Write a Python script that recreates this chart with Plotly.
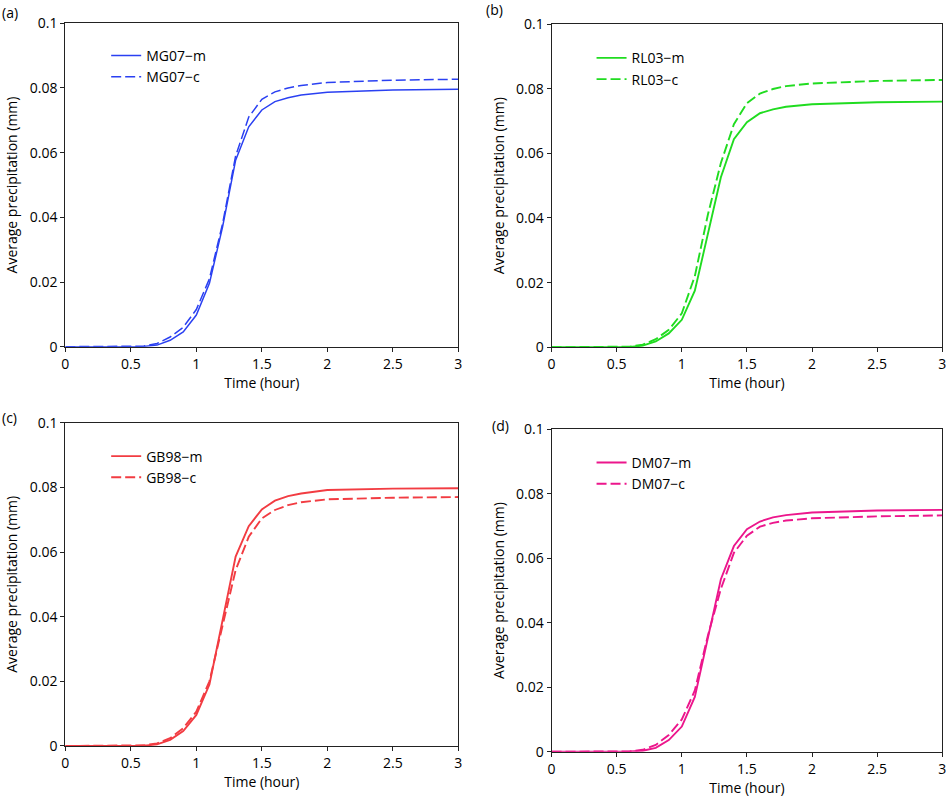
import plotly.graph_objects as go

# Time axis (hour)
time = [0.0, 0.5, 0.6, 0.7, 0.8, 0.9, 1.0, 1.1, 1.2, 1.3, 1.4, 1.5, 1.6, 1.7, 1.8, 2.0, 2.5, 3.0]

# Panel (a)
mg07_m = [0, 0, 0.0001, 0.0005, 0.0020, 0.0046, 0.0098, 0.0196, 0.0370, 0.0577, 0.0680, 0.0732, 0.0758, 0.0770, 0.0778, 0.0787, 0.0794, 0.0796]
mg07_c = [0, 0, 0.0002, 0.0010, 0.0030, 0.0060, 0.0115, 0.0210, 0.0380, 0.0590, 0.0710, 0.0765, 0.0788, 0.0800, 0.0808, 0.0817, 0.0824, 0.0827]
# Panel (b)
rl03_m = [0, 0, 0.0001, 0.0005, 0.0018, 0.0043, 0.0085, 0.0175, 0.0350, 0.0526, 0.0644, 0.0696, 0.0724, 0.0736, 0.0744, 0.0752, 0.0758, 0.0760]
rl03_c = [0, 0, 0.0002, 0.0008, 0.0025, 0.0054, 0.0105, 0.0220, 0.0410, 0.0570, 0.0690, 0.0755, 0.0785, 0.0799, 0.0808, 0.0816, 0.0824, 0.0827]
# Panel (c)
gb98_m = [0, 0, 0.0001, 0.0005, 0.0019, 0.0046, 0.0096, 0.0190, 0.0390, 0.0586, 0.0680, 0.0732, 0.0759, 0.0773, 0.0781, 0.0792, 0.0796, 0.0797]
gb98_c = [0, 0, 0.0002, 0.0008, 0.0024, 0.0055, 0.0106, 0.0200, 0.0369, 0.0544, 0.0647, 0.0704, 0.0730, 0.0745, 0.0754, 0.0763, 0.0768, 0.0770]
# Panel (d)
dm07_m = [0, 0, 0.0001, 0.0003, 0.0012, 0.0036, 0.0078, 0.0170, 0.0350, 0.0535, 0.0638, 0.0690, 0.0714, 0.0727, 0.0734, 0.0742, 0.0748, 0.0750]
dm07_c = [0, 0, 0.0001, 0.0006, 0.0021, 0.0052, 0.0100, 0.0190, 0.0360, 0.0505, 0.0617, 0.0670, 0.0698, 0.0710, 0.0717, 0.0724, 0.0730, 0.0733]

panels = [
    dict(label="(a)", names=["MG07\u2212m", "MG07\u2212c"], data=[mg07_m, mg07_c], color="#2a40f2", lw=1.5,
         xd=[0.0689, 0.4835], yd=[0.5655, 0.9708], leg=(0.112, 0.950), lab=(0.0, 0.984)),
    dict(label="(b)", names=["RL03\u2212m", "RL03\u2212c"], data=[rl03_m, rl03_c], color="#20dc20", lw=1.9,
         xd=[0.5818, 0.9940], yd=[0.5648, 0.9699], leg=(0.624, 0.947), lab=(0.511, 0.988)),
    dict(label="(c)", names=["GB98\u2212m", "GB98\u2212c"], data=[gb98_m, gb98_c], color="#f23c42", lw=1.9,
         xd=[0.0689, 0.4835], yd=[0.0652, 0.4703], leg=(0.112, 0.448), lab=(0.0, 0.477)),
    dict(label="(d)", names=["DM07\u2212m", "DM07\u2212c"], data=[dm07_m, dm07_c], color="#ec168c", lw=1.9,
         xd=[0.5818, 0.9940], yd=[0.0580, 0.4620], leg=(0.624, 0.440), lab=(0.517, 0.467)),
]

FONT = "Open Sans"
fig = go.Figure()
layout = dict(
    width=948, height=798, margin=dict(l=0, r=0, t=0, b=0, autoexpand=False),
    paper_bgcolor="white", plot_bgcolor="white",
    font=dict(family=FONT, size=14, color="black"),
    annotations=[], showlegend=True,
)

for i, p in enumerate(panels, start=1):
    xa = "x" if i == 1 else f"x{i}"
    ya = "y" if i == 1 else f"y{i}"
    lg = "legend" if i == 1 else f"legend{i}"
    for j, (nm, vals) in enumerate(zip(p["names"], p["data"])):
        fig.add_trace(go.Scatter(
            x=time, y=vals, name=nm, mode="lines", xaxis=xa, yaxis=ya, legend=lg,
            line=dict(color=p["color"], width=p["lw"], dash="solid" if j == 0 else "10px,4px"),
        ))
    axcommon = dict(showline=True, linecolor="#222", linewidth=1, mirror=True,
                    showgrid=False, zeroline=False, ticks="outside", ticklen=4,
                    tickcolor="#222", tickfont=dict(size=14, family=FONT), automargin=False)
    layout["xaxis" if i == 1 else f"xaxis{i}"] = dict(
        domain=p["xd"], range=[0, 3], tickvals=[0, 0.5, 1, 1.5, 2, 2.5, 3],
        ticktext=["0", "0.5", "1", "1.5", "2", "2.5", "3"],
        anchor=ya, title=dict(text="Time (hour)", font=dict(size=14), standoff=4), **axcommon)
    layout["yaxis" if i == 1 else f"yaxis{i}"] = dict(
        domain=p["yd"], range=[0, 0.1], tickvals=[0, 0.02, 0.04, 0.06, 0.08, 0.1],
        ticktext=["0", "0.02", "0.04", "0.06", "0.08", "0.1"],
        anchor=xa, title=dict(text="Average precipitation (mm)", font=dict(size=14), standoff=8), **axcommon)
    layout[lg] = dict(x=p["leg"][0], y=p["leg"][1], xanchor="left", yanchor="top",
                      bgcolor="rgba(0,0,0,0)", borderwidth=0, itemwidth=30,
                      font=dict(size=14, family=FONT), tracegroupgap=0)
    layout["annotations"].append(dict(text=p["label"], x=p["lab"][0], y=p["lab"][1],
                                      xref="paper", yref="paper", xanchor="left", yanchor="middle",
                                      showarrow=False, font=dict(size=14, family=FONT)))

fig.update_layout(**layout)
fig.write_html("out.html", config={"displayModeBar": False},
               post_script="document.body.style.margin='0px';document.body.style.overflow='hidden';")
